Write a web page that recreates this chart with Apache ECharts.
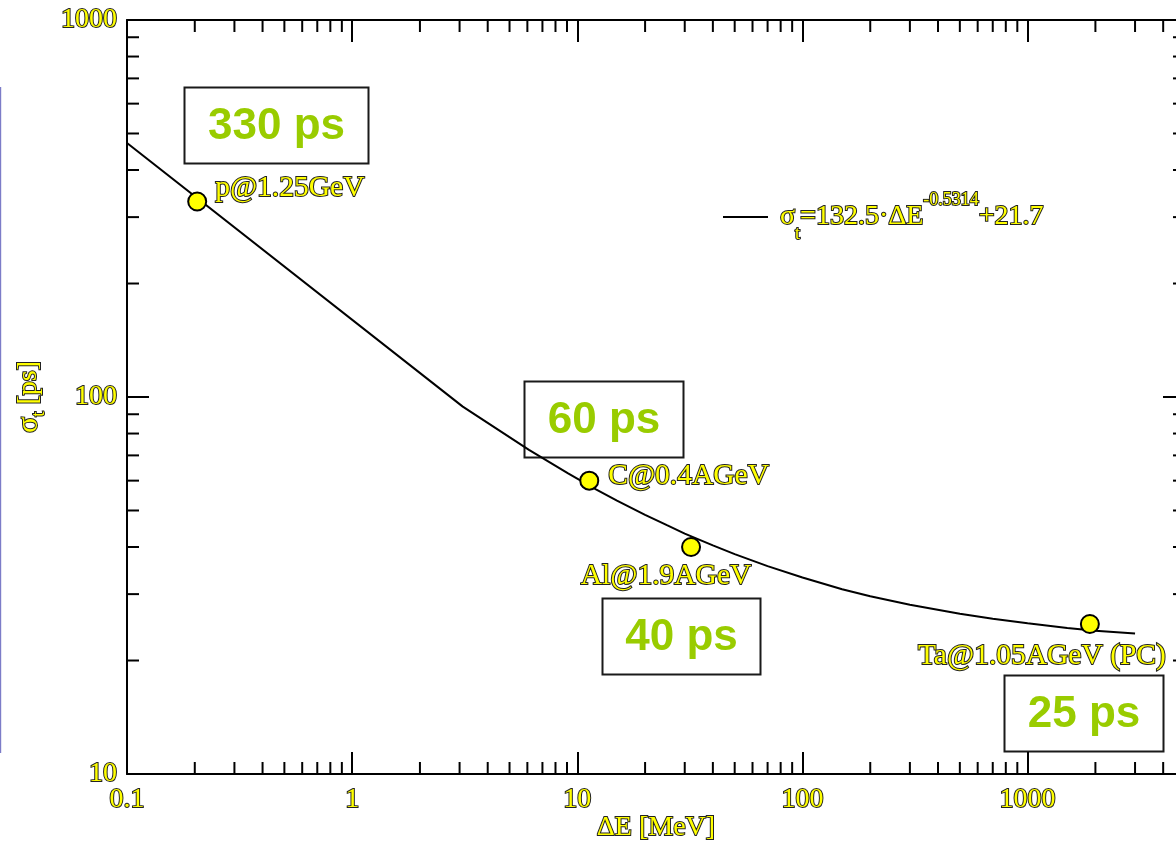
<!DOCTYPE html>
<html><head><meta charset="utf-8">
<script src="https://cdn.jsdelivr.net/npm/echarts@6/dist/echarts.min.js"></script>
<style>html,body{margin:0;padding:0;background:#fff}#c{width:1176px;height:844px}</style>
</head><body><div id="c"></div>
<script>
// ---- data ----
const xMinorTicks = [0.2,0.3,0.4,0.5,0.6,0.7,0.8,0.9, 2,3,4,5,6,7,8,9, 20,30,40,50,60,70,80,90, 200,300,400,500,600,700,800,900, 2000,3000,4000];
const yMinorTicks = [20,30,40,50,60,70,80,90, 200,300,400,500,600,700,800,900];
const fitX = [0.1, 3.1, 6.1, 9.1, 12.1, 15, 20, 25, 30, 40, 50, 70, 100, 150, 200, 300, 500, 700, 1000, 1500, 2000, 3000];
const fitY = [472, 94.3, 72.4, 62.7, 56.9, 53.1, 48.7, 45.7, 43.4, 40.4, 38.3, 35.6, 33.2, 30.9, 29.6, 28.1, 26.6, 25.8, 25.1, 24.4, 24.0, 23.6];
const pointNames = ['p@1.25GeV', 'C@0.4AGeV', 'Al@1.9AGeV', 'Ta@1.05AGeV (PC)'];
const pointX = [0.205, 11.3, 32, 1890];
const pointY = [330, 60, 40, 25];
const boxTexts = ['330 ps', '60 ps', '40 ps', '25 ps'];

// ---- layout / style (not data) ----
const labelLayout = [
  {align: 'left', offset: [18, -13]},
  {align: 'left', offset: [19, -4]},
  {align: 'center', offset: [-25, 29]},
  {align: 'right', offset: [76, 32]}
];
const boxLayout = [
  {x: 182, y: 85, w: 184, h: 76},
  {x: 522, y: 379, w: 159, h: 76},
  {x: 600, y: 596, w: 158, h: 76},
  {x: 1002, y: 673, w: 159, h: 76}
];
const SERIF = '"Liberation Serif", "DejaVu Serif", serif';
const yel = {color: '#ffff00', textBorderColor: '#222', textBorderWidth: 2, fontFamily: SERIF};

const chart = echarts.init(document.getElementById('c'), null, {renderer: 'canvas'});

const axisCommon = {
  type: 'log', logBase: 10,
  axisLine: {show: true, lineStyle: {color: '#000', width: 2}},
  axisTick: {show: true, inside: true, length: 22, lineStyle: {color: '#000', width: 2}},
  splitLine: {show: false},
  minorTick: {show: false},
  minorSplitLine: {show: false}
};
function plainNum(v) { return String(+v.toPrecision(6)); }

const option = {
  backgroundColor: '#fff',
  animation: false,
  grid: {left: 127, top: 20, right: -9, bottom: 70, containLabel: false, outerBoundsMode: 'none'},
  xAxis: [
    Object.assign({}, axisCommon, {
      position: 'bottom', min: 0.1, max: 5000, interval: 1,
      name: 'ΔE [MeV]', nameLocation: 'middle', nameGap: 40, nameMoveOverlap: false,
      nameTextStyle: Object.assign({fontSize: 28}, yel),
      axisLabel: Object.assign({fontSize: 28, margin: 12, showMaxLabel: false, formatter: plainNum}, yel)
    }),
    Object.assign({}, axisCommon, {
      position: 'top', min: 0.1, max: 5000, interval: 1,
      axisLabel: {show: false}
    })
  ],
  yAxis: [
    Object.assign({}, axisCommon, {
      position: 'left', min: 10, max: 1000, interval: 1,
      name: '{s|σ}{sub|t}{n| [ps]}', nameLocation: 'middle', nameGap: 78, nameRotate: 90, nameMoveOverlap: false,
      nameTextStyle: {
        rich: {
          s: Object.assign({fontSize: 30, lineHeight: 40}, yel),
          sub: Object.assign({fontSize: 19, lineHeight: 14, verticalAlign: 'bottom'}, yel),
          n: Object.assign({fontSize: 28, lineHeight: 40}, yel)
        }
      },
      axisLabel: Object.assign({fontSize: 28, margin: 10, formatter: plainNum}, yel)
    }),
    Object.assign({}, axisCommon, {
      position: 'right', min: 10, max: 1000, interval: 1,
      axisLabel: {show: false}
    })
  ],
  legend: {
    data: ['fit'],
    orient: 'vertical',
    left: 718, top: 185,
    itemWidth: 45, itemHeight: 2,
    icon: 'rect',
    itemStyle: {color: '#000', borderWidth: 0},
    formatter: function () { return '{g|}{s|σ}{sub|t}{n|=132.5·ΔE}{sup|-0.5314}{n|+21.7}'; },
    textStyle: {
      overflow: 'none',
      rich: {
        g: {width: 7},
        s: Object.assign({fontSize: 28, lineHeight: 52}, yel),
        sub: Object.assign({fontSize: 18, lineHeight: 28, verticalAlign: 'bottom'}, yel),
        n: Object.assign({fontSize: 28, lineHeight: 52}, yel),
        sup: Object.assign({fontSize: 18, lineHeight: 18, verticalAlign: 'top'}, yel)
      }
    }
  },
  graphic: [
    {type: 'rect', left: 0, top: 87, shape: {width: 1.2, height: 666}, style: {fill: '#7c7cc8'}, silent: true}
  ].concat(boxTexts.map(function (t, i) {
    const b = boxLayout[i];
    return {
      type: 'group', left: b.x, top: b.y, silent: true,
      children: [
        {type: 'rect', shape: {x: 0, y: 0, width: b.w, height: b.h},
          style: {fill: 'none', stroke: '#1a1a1a', lineWidth: 2}},
        {type: 'text', x: b.w / 2, y: b.h / 2 + 1,
          style: {text: t, fill: '#99cc00', font: 'bold 44px "Liberation Sans", Arial, sans-serif',
            align: 'center', verticalAlign: 'middle'}}
      ]
    };
  })),
  series: [
    {
      name: 'fit', type: 'line', xAxisIndex: 0, yAxisIndex: 0,
      data: fitX.map(function (x, i) { return [x, fitY[i]]; }),
      symbol: 'none', showSymbol: false,
      lineStyle: {color: '#000', width: 2},
      itemStyle: {color: '#000'},
      z: 3
    },
    {
      name: 'points', type: 'scatter', xAxisIndex: 0, yAxisIndex: 0,
      symbol: 'circle', symbolSize: 18,
      itemStyle: {color: '#ffff00', borderColor: '#000', borderWidth: 2, opacity: 1},
      data: pointX.map(function (x, i) {
        return {
          value: [x, pointY[i]], name: pointNames[i],
          label: Object.assign({
            show: true, position: 'inside', formatter: pointNames[i],
            fontSize: 29.5, verticalAlign: 'middle',
            align: labelLayout[i].align, offset: labelLayout[i].offset
          }, yel)
        };
      }),
      z: 4
    },
    {
      name: 'minorTicks', type: 'custom', xAxisIndex: 0, yAxisIndex: 0,
      silent: true, clip: false, z: 5,
      data: [[1, 100]],
      renderItem: function (params, api) {
        const children = [];
        const bl = api.coord([0.1, 10]);
        const tr = api.coord([5000, 1000]);
        const st = {stroke: '#000', lineWidth: 2};
        xMinorTicks.forEach(function (v) {
          const x = api.coord([v, 10])[0];
          children.push({type: 'line', shape: {x1: x, y1: bl[1], x2: x, y2: bl[1] - 12}, style: st});
          children.push({type: 'line', shape: {x1: x, y1: tr[1], x2: x, y2: tr[1] + 12}, style: st});
        });
        yMinorTicks.forEach(function (v) {
          const y = api.coord([1, v])[1];
          children.push({type: 'line', shape: {x1: bl[0], y1: y, x2: bl[0] + 12, y2: y}, style: st});
          children.push({type: 'line', shape: {x1: tr[0], y1: y, x2: tr[0] - 12, y2: y}, style: st});
        });
        return {type: 'group', children: children};
      }
    }
  ]
};
chart.setOption(option);
</script>
</body></html>
